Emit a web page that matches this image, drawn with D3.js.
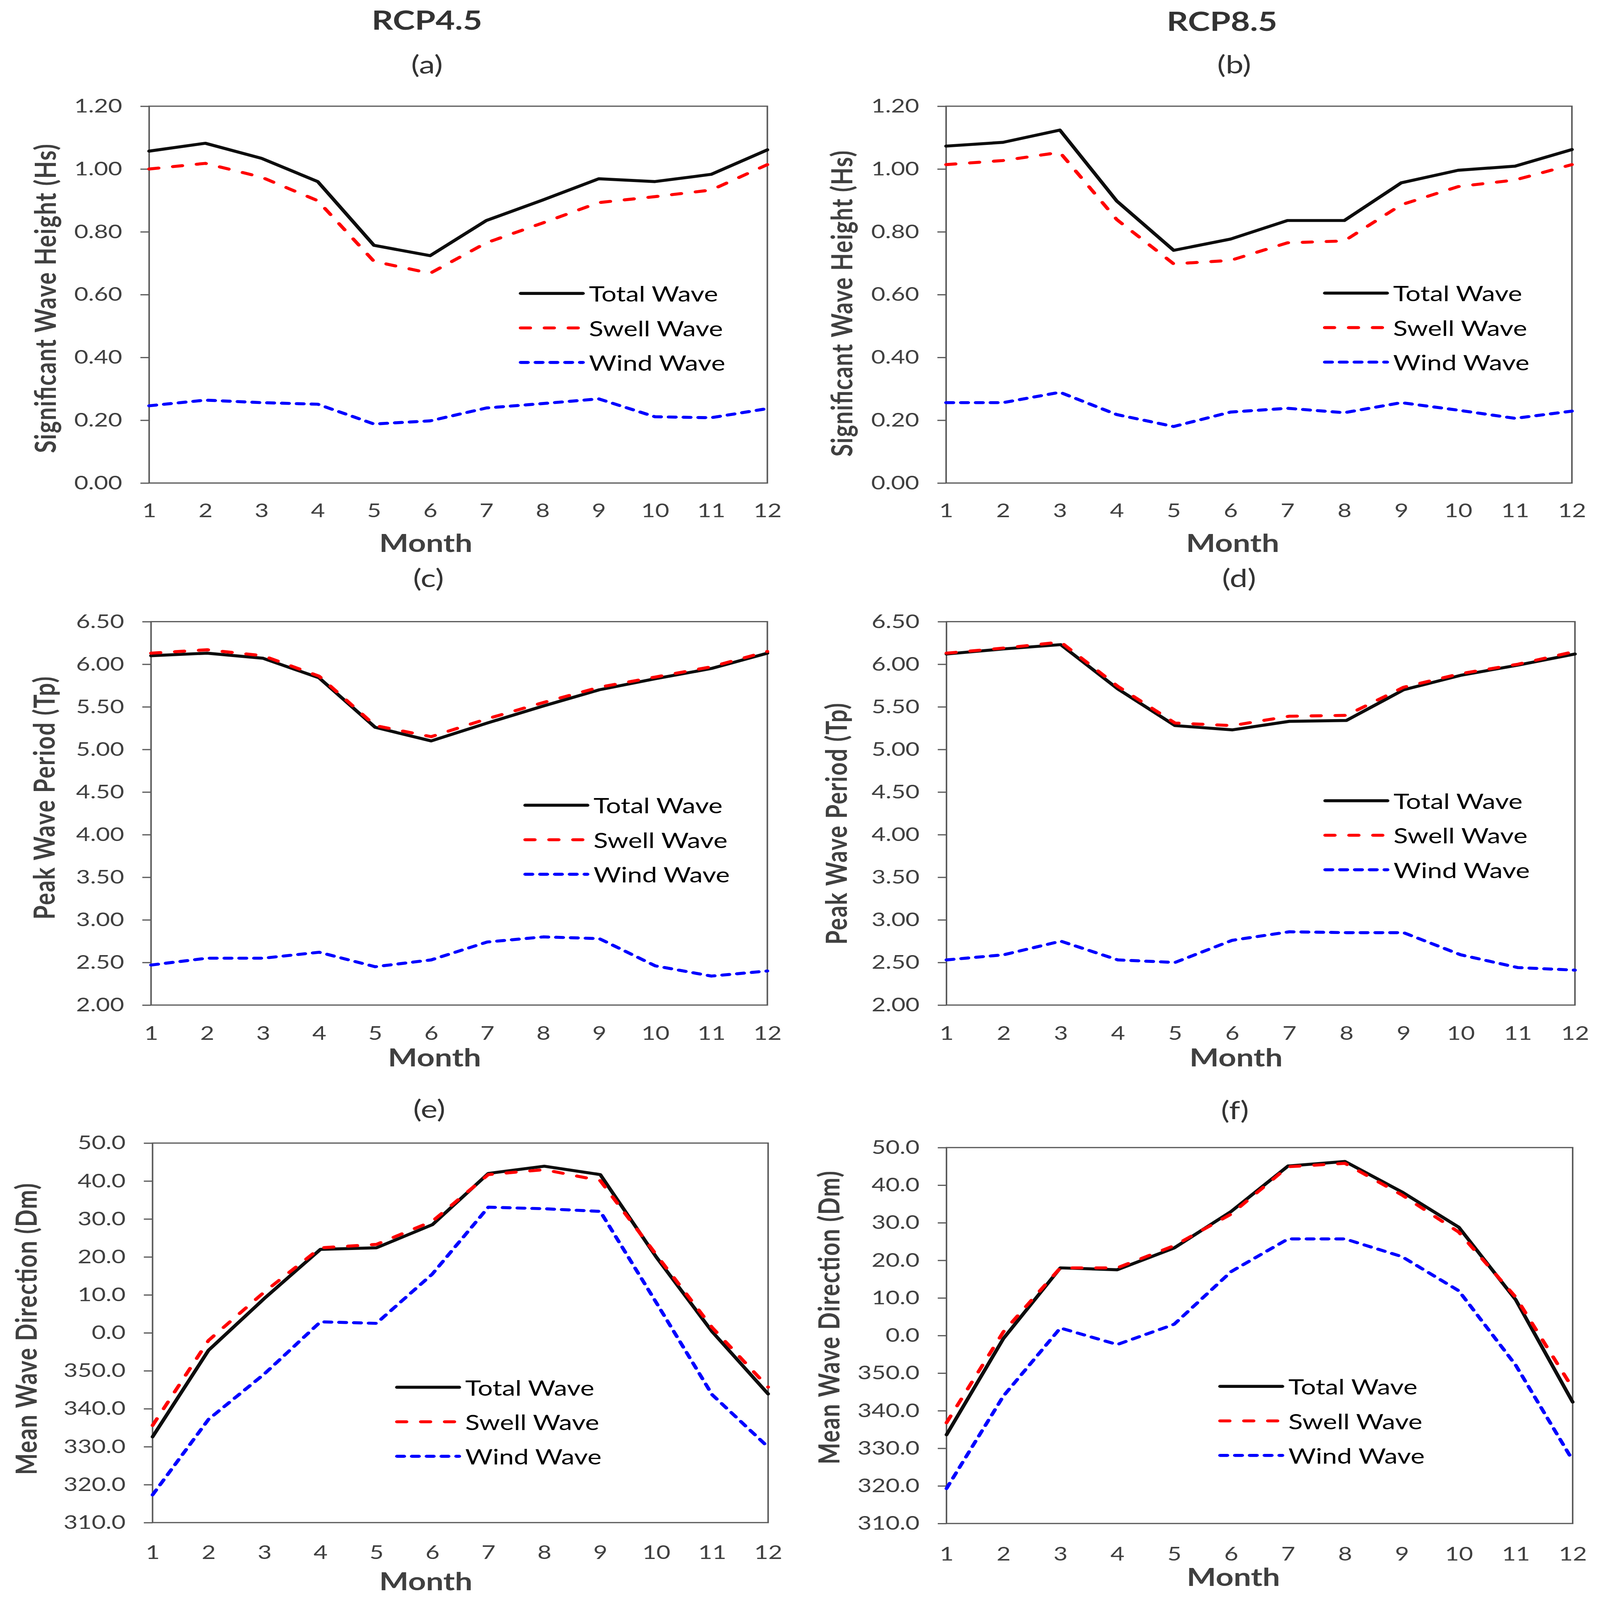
<!DOCTYPE html>
<html>
<head>
<meta charset="utf-8">
<script src="https://cdn.jsdelivr.net/npm/d3@7"></script>
<style>
  html, body { margin: 0; padding: 0; background: #fff; overflow: hidden; }
  svg { display: block; }
  text { font-family: Lato, "Open Sans", sans-serif; }
</style>
</head>
<body>
<script>
const months = [1, 2, 3, 4, 5, 6, 7, 8, 9, 10, 11, 12];
const seriesNames = ['Total Wave', 'Swell Wave', 'Wind Wave'];

// significant wave height (m)
const hsTotal45 = [1.057, 1.082, 1.034, 0.960, 0.757, 0.724, 0.836, 0.901, 0.969, 0.960, 0.983, 1.061];
const hsSwell45 = [1.000, 1.018, 0.974, 0.899, 0.706, 0.668, 0.765, 0.828, 0.893, 0.912, 0.933, 1.014];
const hsWind45 = [0.246, 0.264, 0.256, 0.251, 0.188, 0.198, 0.239, 0.253, 0.268, 0.211, 0.208, 0.237];
const hsTotal85 = [1.073, 1.085, 1.124, 0.898, 0.741, 0.777, 0.836, 0.836, 0.956, 0.996, 1.009, 1.062];
const hsSwell85 = [1.014, 1.027, 1.053, 0.839, 0.698, 0.709, 0.765, 0.771, 0.886, 0.944, 0.965, 1.014];
const hsWind85 = [0.256, 0.256, 0.289, 0.218, 0.180, 0.226, 0.238, 0.224, 0.256, 0.232, 0.206, 0.229];

// peak wave period (s)
const tpTotal45 = [6.10, 6.13, 6.07, 5.84, 5.26, 5.10, 5.31, 5.51, 5.70, 5.83, 5.95, 6.13];
const tpSwell45 = [6.13, 6.17, 6.10, 5.86, 5.28, 5.15, 5.36, 5.55, 5.73, 5.85, 5.97, 6.15];
const tpWind45 = [2.47, 2.55, 2.55, 2.62, 2.45, 2.53, 2.74, 2.80, 2.78, 2.46, 2.34, 2.40];
const tpTotal85 = [6.12, 6.18, 6.23, 5.71, 5.28, 5.23, 5.33, 5.34, 5.70, 5.87, 5.99, 6.12];
const tpSwell85 = [6.13, 6.19, 6.26, 5.74, 5.31, 5.28, 5.39, 5.40, 5.73, 5.89, 6.00, 6.15];
const tpWind85 = [2.53, 2.59, 2.75, 2.53, 2.50, 2.76, 2.86, 2.85, 2.85, 2.59, 2.44, 2.41];

// mean wave direction (degrees)
const dmTotal45 = [332.6, 355.4, 9.1, 22.0, 22.4, 28.5, 42.0, 43.9, 41.7, 20.0, 0.3, 343.9];
const dmSwell45 = [335.6, 358.0, 10.8, 22.4, 23.3, 29.4, 41.7, 43.0, 40.1, 20.6, 1.4, 345.7];
const dmWind45 = [317.3, 337.2, 349.2, 2.9, 2.5, 15.5, 33.1, 32.7, 32.0, 8.0, 343.7, 329.9];
const dmTotal85 = [333.6, 359.2, 18.0, 17.5, 23.3, 33.0, 45.1, 46.3, 38.2, 28.8, 9.5, 342.3];
const dmSwell85 = [336.8, 1.0, 18.0, 18.0, 23.9, 32.3, 44.9, 45.8, 37.4, 27.5, 10.2, 346.0];
const dmWind85 = [319.3, 343.9, 2.0, 357.6, 3.0, 17.0, 25.7, 25.7, 21.0, 11.9, 352.1, 326.8];

const hsTicks = [0, 0.2, 0.4, 0.6, 0.8, 1.0, 1.2];
const tpTicks = [2.0, 2.5, 3.0, 3.5, 4.0, 4.5, 5.0, 5.5, 6.0, 6.5];
const dmTicks = [-50, -40, -30, -20, -10, 0, 10, 20, 30, 40, 50];

/** Direction shown on a -50..50 axis, values above 180 wrap below 0 */
const wrapDir = (d) => d > 180 ? d - 360 : d;
const dirLabel = (v) => (v < 0 ? v + 360 : v).toFixed(1);

const styles = [
    { color: '#0d0d0d', dash: null },
    { color: '#ff0000', dash: '25,38' },
    { color: '#0000ff', dash: '19,20' }
];

const panels = [
    { tag: '(a)', tagPos: [1125, 212], x: [393, 2022], y: [354, 1610], xPad: 68, month: [1122, 1808],
      yTitle: ['Significant Wave Height (Hs)', 117, 995, 1030], legend: [1372, 978],
      domain: [0, 1.2], ticks: hsTicks, fmt: d3.format('.2f'), data: [hsTotal45, hsSwell45, hsWind45] },
    { tag: '(b)', tagPos: [3252, 212], x: [2493, 4142], y: [354, 1610], xPad: 68, month: [3248, 1808],
      yTitle: ['Significant Wave Height (Hs)', 2216, 1012, 1020], legend: [3491, 977],
      domain: [0, 1.2], ticks: hsTicks, fmt: d3.format('.2f'), data: [hsTotal85, hsSwell85, hsWind85] },
    { tag: '(c)', tagPos: [1129, 1924], x: [398, 2022], y: [2072, 3350], xPad: 70, month: [1145, 3522],
      yTitle: ['Peak Wave Period (Tp)', 114, 2660, 810], legend: [1384, 2684],
      domain: [2, 6.5], ticks: tpTicks, fmt: d3.format('.2f'), data: [tpTotal45, tpSwell45, tpWind45] },
    { tag: '(d)', tagPos: [3265, 1924], x: [2494, 4150], y: [2072, 3350], xPad: 70, month: [3257, 3522],
      yTitle: ['Peak Wave Period (Tp)', 2202, 2746, 805], legend: [3492, 2669],
      domain: [2, 6.5], ticks: tpTicks, fmt: d3.format('.2f'), data: [tpTotal85, tpSwell85, tpWind85] },
    { tag: '(e)', tagPos: [1131, 3694], x: [402, 2024], y: [3810, 5075], xPad: 76, month: [1122, 5268],
      yTitle: ['Mean Wave Direction (Dm)', 67, 4430, 972], legend: [1046, 4624],
      domain: [-50, 50], ticks: dmTicks, fmt: dirLabel,
      data: [dmTotal45, dmSwell45, dmWind45].map((s) => s.map(wrapDir)) },
    { tag: '(f)', tagPos: [3254, 3698], x: [2494, 4144], y: [3825, 5078], xPad: 78, month: [3250, 5254],
      yTitle: ['Mean Wave Direction (Dm)', 2182, 4392, 978], legend: [3215, 4621],
      domain: [-50, 50], ticks: dmTicks, fmt: dirLabel,
      data: [dmTotal85, dmSwell85, dmWind85].map((s) => s.map(wrapDir)) }
];

/** Whole figure in a 4216 x 5333 coordinate box, stretched to the window */
const svg = d3.select('body').append('svg')
    .attr('viewBox', '0 0 4216 5333')
    .attr('preserveAspectRatio', 'none')
    .style('width', '100vw')
    .style('height', '100vh');

svg.append('rect').attr('width', 4216).attr('height', 5333).attr('fill', '#fff');

/** Column titles */
svg.append('text').attr('x', 1125).attr('y', 65).text('RCP4.5')
    .attr('text-anchor', 'middle').attr('dominant-baseline', 'central')
    .style('font-size', '88px').style('font-weight', 'bold').attr('fill', '#333');
svg.append('text').attr('x', 3220).attr('y', 68).text('RCP8.5')
    .attr('text-anchor', 'middle').attr('dominant-baseline', 'central')
    .style('font-size', '88px').style('font-weight', 'bold').attr('fill', '#333');

const drawPanel = (p) => {
    const g = svg.append('g');

    const x = d3.scaleLinear().domain([1, 12]).range(p.x);
    const y = d3.scaleLinear().domain(p.domain).range([p.y[1], p.y[0]]);

    g.append('text').attr('x', p.tagPos[0]).attr('y', p.tagPos[1]).text(p.tag)
        .attr('text-anchor', 'middle').attr('dominant-baseline', 'central')
        .style('font-size', '84px').attr('fill', '#333');

    /** Y axis */
    const yAxis = g.append('g')
        .attr('transform', `translate(${p.x[0]},0)`)
        .call(d3.axisLeft(y).tickValues(p.ticks).tickFormat(p.fmt).tickSize(23).tickPadding(48));
    yAxis.select('.domain').remove();
    yAxis.selectAll('line').attr('stroke', '#595959').attr('stroke-width', 4);
    yAxis.selectAll('text').style('font-size', '64px').attr('fill', '#404040')
        .style('font-family', 'Lato, sans-serif');

    /** X axis */
    const xAxis = g.append('g')
        .attr('transform', `translate(0,${p.y[1]})`)
        .call(d3.axisBottom(x).tickValues(months).tickFormat(d3.format('d')).tickSize(0).tickPadding(p.xPad));
    xAxis.select('.domain').remove();
    xAxis.selectAll('text').style('font-size', '64px').attr('fill', '#404040')
        .style('font-family', 'Lato, sans-serif');

    /** Plot frame */
    g.append('rect')
        .attr('x', p.x[0]).attr('y', p.y[0])
        .attr('width', p.x[1] - p.x[0]).attr('height', p.y[1] - p.y[0])
        .attr('fill', 'none').attr('stroke', '#595959').attr('stroke-width', 4);

    /** Series lines */
    const line = d3.line()
        .x((d, i) => x(months[i]))
        .y((d) => y(d));

    p.data.forEach((values, k) => {
        g.append('path')
            .datum(values)
            .attr('d', line)
            .attr('fill', 'none')
            .attr('stroke', styles[k].color)
            .attr('stroke-width', 10)
            .attr('stroke-linejoin', 'round')
            .attr('stroke-linecap', 'round')
            .attr('stroke-dasharray', styles[k].dash);
    });

    /** Legend */
    seriesNames.forEach((name, k) => {
        const ly = p.legend[1] + k * 115;
        g.append('line')
            .attr('x1', p.legend[0]).attr('x2', p.legend[0] + 164)
            .attr('y1', ly).attr('y2', ly)
            .attr('stroke', styles[k].color)
            .attr('stroke-width', 10)
            .attr('stroke-linecap', 'round')
            .attr('stroke-dasharray', styles[k].dash);
        g.append('text')
            .attr('x', p.legend[0] + 180).attr('y', ly)
            .attr('dominant-baseline', 'central')
            .style('font-size', '70px').attr('fill', '#000')
            .text(name);
    });

    /** Axis titles */
    g.append('text').attr('x', p.month[0]).attr('y', p.month[1]).text('Month')
        .attr('text-anchor', 'middle').attr('dominant-baseline', 'central')
        .style('font-size', '82px').style('font-weight', 'bold').attr('fill', '#404040');

    g.append('text')
        .attr('transform', `translate(${p.yTitle[1]},${p.yTitle[2]}) rotate(-90)`)
        .attr('text-anchor', 'middle').attr('dominant-baseline', 'central')
        .attr('textLength', p.yTitle[3]).attr('lengthAdjust', 'spacing')
        .style('font-size', '76px').style('font-weight', 'bold').attr('fill', '#404040')
        .text(p.yTitle[0]);
};

panels.forEach(drawPanel);
</script>
</body>
</html>
